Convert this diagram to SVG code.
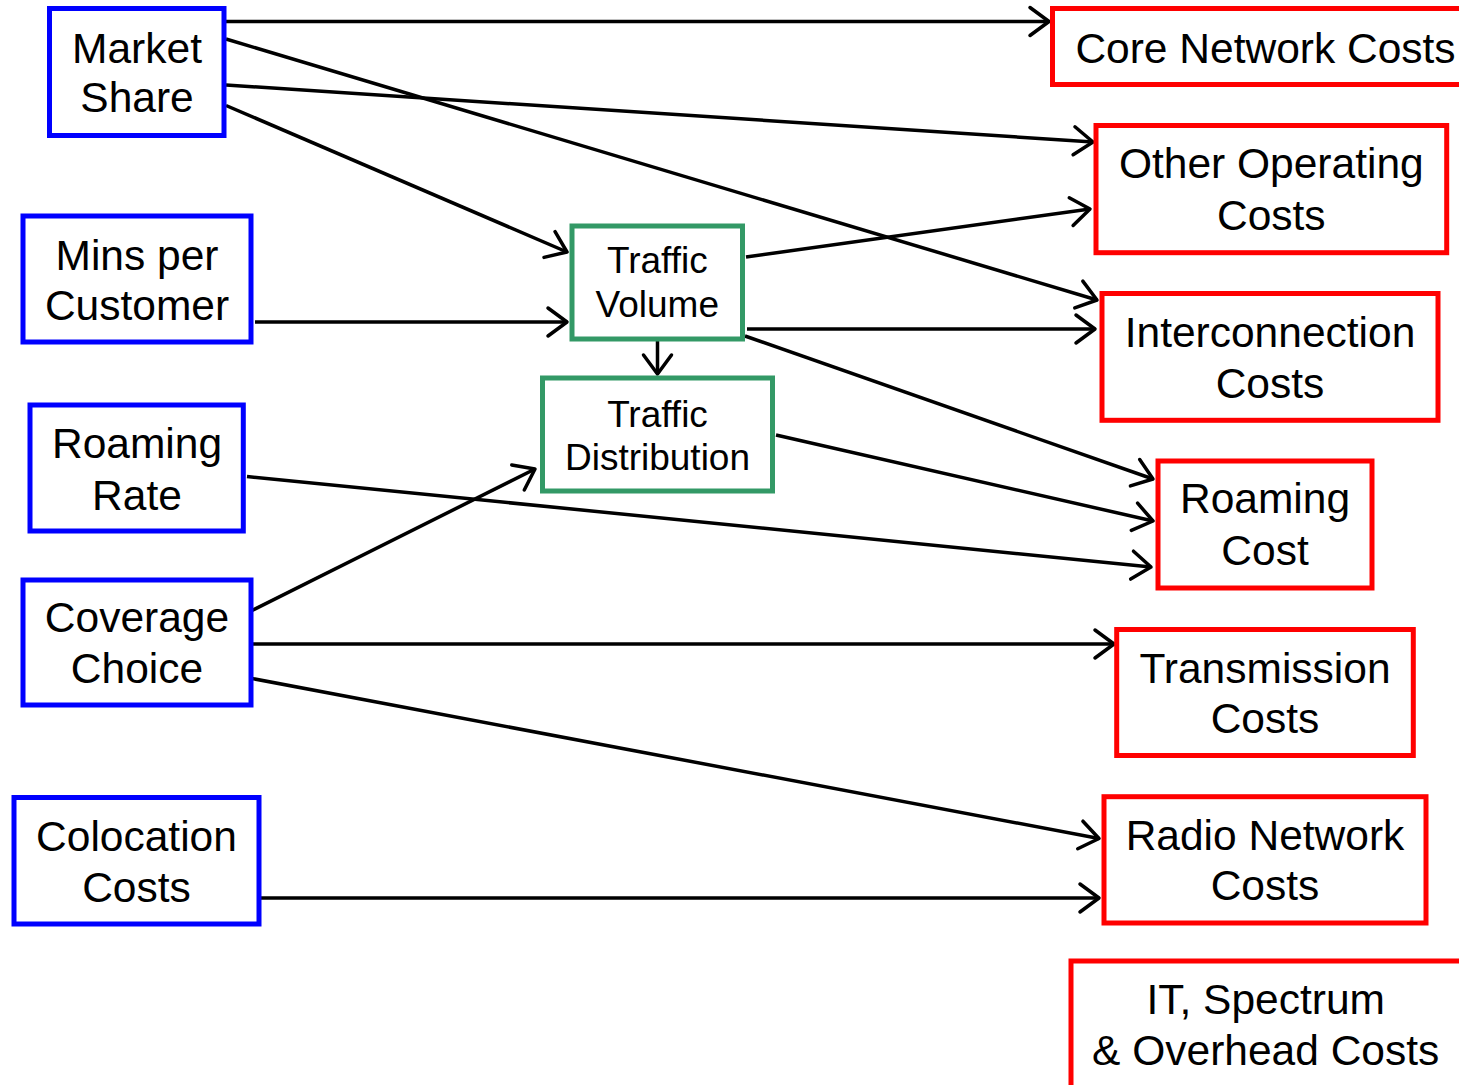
<svg xmlns="http://www.w3.org/2000/svg" width="1459" height="1085" viewBox="0 0 1459 1085">
  <style>
    .box { fill: #ffffff; stroke-width: 5; }
    .in { stroke: #0000ff; }
    .mid { stroke: #339966; }
    .out { stroke: #ff0000; }
    .lbl { font-family: "Liberation Sans", Arial, sans-serif; font-size: 42.5px; fill: #000000; text-anchor: middle; }
    .sm { font-size: 37px; }
    .conn { fill: none; stroke: #000000; stroke-width: 3.5; marker-end: url(#arr); }
  </style>
  <defs>
    <marker id="arr" markerUnits="userSpaceOnUse" viewBox="-24 -18 28 36" markerWidth="28" markerHeight="36" refX="0" refY="0" orient="auto">
      <path d="M-19,-14 L0,0 L-19,14" fill="none" stroke="#000000" stroke-width="3.5" stroke-linejoin="round" stroke-linecap="round"/>
    </marker>
  </defs>
  <rect width="1459" height="1085" fill="#ffffff"/>

  <g id="connectors">
    <path class="conn" d="M226,21.5 L1049,21.5"/>
    <path class="conn" d="M226,39 L1097,300"/>
    <path class="conn" d="M226,85 L1093,142"/>
    <path class="conn" d="M226,105.5 L567,252"/>
    <path class="conn" d="M255,322 L567,322"/>
    <path class="conn" d="M746,257 L1090,209"/>
    <path class="conn" d="M747,329 L1095,329"/>
    <path class="conn" d="M745,336 L1153,479"/>
    <path class="conn" d="M657.5,341 L657.5,374"/>
    <path class="conn" d="M776,435 L1153,521"/>
    <path class="conn" d="M247,476.5 L1151,567"/>
    <path class="conn" d="M250,611.5 L535,469"/>
    <path class="conn" d="M252,644 L1114,644"/>
    <path class="conn" d="M252,678.5 L1099,838.5"/>
    <path class="conn" d="M261,898 L1099,898"/>
  </g>

  <g id="market-share">
    <rect class="box in" x="49.5" y="8.5" width="174.5" height="127"/>
    <text class="lbl" x="137" y="63.3">Market</text>
    <text class="lbl" x="137" y="112">Share</text>
  </g>
  <g id="mins-per-customer">
    <rect class="box in" x="23" y="216" width="228" height="126"/>
    <text class="lbl" x="137" y="270">Mins per</text>
    <text class="lbl" x="137" y="320">Customer</text>
  </g>
  <g id="roaming-rate">
    <rect class="box in" x="30" y="405" width="213.3" height="126"/>
    <text class="lbl" x="137" y="458.3">Roaming</text>
    <text class="lbl" x="137" y="510">Rate</text>
  </g>
  <g id="coverage-choice">
    <rect class="box in" x="23" y="580" width="228" height="125"/>
    <text class="lbl" x="137" y="632.3">Coverage</text>
    <text class="lbl" x="137" y="683.3">Choice</text>
  </g>
  <g id="colocation-costs">
    <rect class="box in" x="14" y="797.5" width="245" height="126.5"/>
    <text class="lbl" x="136.5" y="850.7">Colocation</text>
    <text class="lbl" x="136.5" y="901.7">Costs</text>
  </g>

  <g id="traffic-volume">
    <rect class="box mid" x="572" y="226" width="170.5" height="113"/>
    <text class="lbl sm" x="657.3" y="273.3">Traffic</text>
    <text class="lbl sm" x="657.3" y="316.7">Volume</text>
  </g>
  <g id="traffic-distribution">
    <rect class="box mid" x="542.5" y="378" width="230" height="113"/>
    <text class="lbl sm" x="657.5" y="426.7">Traffic</text>
    <text class="lbl sm" x="657.5" y="470">Distribution</text>
  </g>

  <g id="core-network-costs">
    <rect class="box out" x="1052.5" y="8.5" width="428" height="76"/>
    <text class="lbl" x="1265.5" y="63.3">Core Network Costs</text>
  </g>
  <g id="other-operating-costs">
    <rect class="box out" x="1096" y="125.5" width="350.7" height="127.2"/>
    <text class="lbl" x="1271.3" y="178.3">Other Operating</text>
    <text class="lbl" x="1271.3" y="230">Costs</text>
  </g>
  <g id="interconnection-costs">
    <rect class="box out" x="1102" y="293.5" width="336" height="126.8"/>
    <text class="lbl" x="1270" y="346.7">Interconnection</text>
    <text class="lbl" x="1270" y="398.3">Costs</text>
  </g>
  <g id="roaming-cost">
    <rect class="box out" x="1158" y="461" width="214" height="127"/>
    <text class="lbl" x="1265" y="513.3">Roaming</text>
    <text class="lbl" x="1265" y="565">Cost</text>
  </g>
  <g id="transmission-costs">
    <rect class="box out" x="1116.7" y="629.5" width="296.6" height="126"/>
    <text class="lbl" x="1265" y="682.7">Transmission</text>
    <text class="lbl" x="1265" y="733.3">Costs</text>
  </g>
  <g id="radio-network-costs">
    <rect class="box out" x="1104" y="796.7" width="322" height="126.3"/>
    <text class="lbl" x="1265" y="850">Radio Network</text>
    <text class="lbl" x="1265" y="900">Costs</text>
  </g>
  <g id="it-spectrum-overhead-costs">
    <rect class="box out" x="1071" y="961" width="392" height="150"/>
    <text class="lbl" x="1265.7" y="1014">IT, Spectrum</text>
    <text class="lbl" x="1265.7" y="1065">&amp; Overhead Costs</text>
  </g>
</svg>
